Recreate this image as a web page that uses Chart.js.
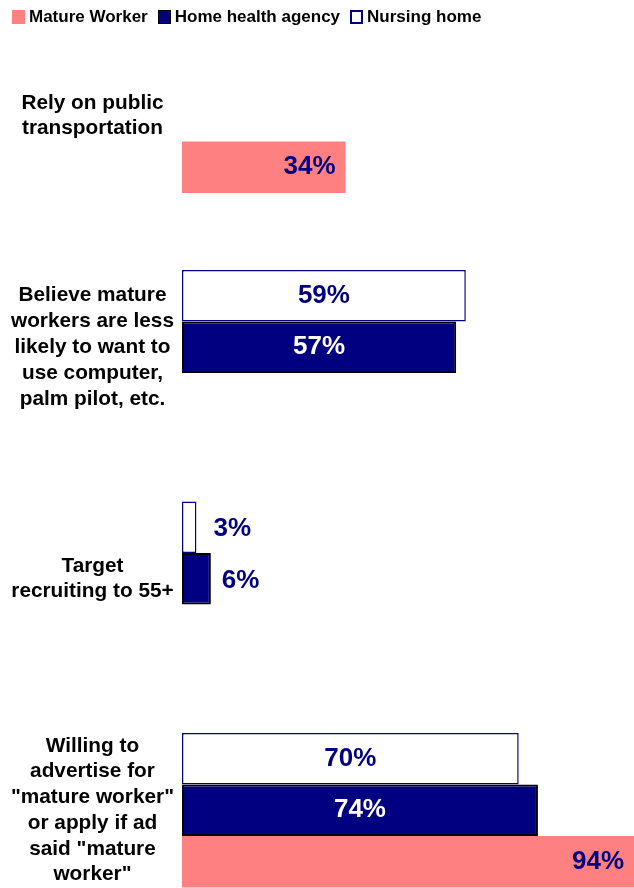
<!DOCTYPE html>
<html>
<head>
<meta charset="utf-8">
<title>Mature worker survey</title>
<script src="https://cdn.jsdelivr.net/npm/chart.js@4"></script>
<style>
  html, body { margin: 0; padding: 0; background: #fff; overflow: hidden; }
  #wrap { position: relative; width: 634px; height: 888px; overflow: hidden; }
  #chart { position: absolute; left: 0; top: 0; }
  #legend { position: absolute; left: 12px; top: 7px; display: flex; align-items: center;
            font: bold 17px "Liberation Sans", Arial, sans-serif; color: #000; white-space: nowrap; }
  #legend .item { display: flex; align-items: center; margin-right: 10px; }
  #legend .box { width: 13px; height: 14px; box-sizing: border-box; margin-right: 4px; }
</style>
</head>
<body>
<div id="wrap">
  <canvas id="chart" width="663" height="926"></canvas>
  <div id="legend"></div>
</div>
<script>
// category labels (one array of lines per category)
const categories = [
  ['Rely on public', 'transportation'],
  ['Believe mature', 'workers are less', 'likely to want to', 'use computer,', 'palm pilot, etc.'],
  ['Target', 'recruiting to 55+'],
  ['Willing to', 'advertise for', '"mature worker"', 'or apply if ad', 'said "mature', 'worker"']
];

// percentages per series
const matureWorker = [34, null, null, 94];
const homeHealthAgency = [null, 57, 6, 74];
const nursingHome = [null, 59, 3, 70];

const NAVY = '#000080';
const SALMON = '#FF8080';
const FONT = '"Liberation Sans", Arial, sans-serif';

// legend (drawn in the order of the original)
const legendItems = [
  { text: 'Mature Worker', bg: SALMON, border: 'none' },
  { text: 'Home health agency', bg: NAVY, border: '1px solid #000' },
  { text: 'Nursing home', bg: '#fff', border: '2px solid ' + NAVY }
];
const legendEl = document.getElementById('legend');
legendItems.forEach(it => {
  const item = document.createElement('span');
  item.className = 'item';
  const box = document.createElement('span');
  box.className = 'box';
  box.style.background = it.bg;
  box.style.border = it.border;
  const label = document.createElement('span');
  label.textContent = it.text;
  item.appendChild(box);
  item.appendChild(label);
  legendEl.appendChild(item);
});

// value labels on the bars
const valueLabels = {
  id: 'valueLabels',
  afterDatasetsDraw(chart) {
    const ctx = chart.ctx;
    ctx.save();
    ctx.font = 'bold 26px ' + FONT;
    ctx.textBaseline = 'middle';
    chart.data.datasets.forEach((ds, i) => {
      const meta = chart.getDatasetMeta(i);
      meta.data.forEach((bar, j) => {
        const v = ds.data[j];
        if (v == null) return;
        const txt = v + '%';
        const w = ctx.measureText(txt).width;
        const left = Math.min(bar.base, bar.x);
        const right = Math.max(bar.base, bar.x);
        if (right - left < w + 16) {
          // too small: put it just right of the bar
          ctx.textAlign = 'left';
          ctx.fillStyle = NAVY;
          ctx.fillText(txt, right + (ds.label === 'Nursing home' ? 17 : 11), bar.y + 2);
        } else if (ds.label === 'Mature Worker') {
          ctx.textAlign = 'right';
          ctx.fillStyle = NAVY;
          ctx.fillText(txt, right - 10, bar.y);
        } else {
          ctx.textAlign = 'center';
          ctx.fillStyle = ds.label === 'Home health agency' ? '#fff' : NAVY;
          ctx.fillText(txt, (left + right) / 2, bar.y);
        }
      });
    });
    ctx.restore();
  }
};

const chart = new Chart(document.getElementById('chart'), {
  type: 'bar',
  data: {
    labels: categories,
    datasets: [
      {
        label: 'Nursing home',
        data: nursingHome,
        backgroundColor: '#fff',
        borderColor: NAVY,
        borderWidth: 1.5,
        borderSkipped: false
      },
      {
        label: 'Home health agency',
        data: homeHealthAgency,
        backgroundColor: NAVY,
        borderColor: '#000',
        borderWidth: 2,
        borderSkipped: false
      },
      {
        label: 'Mature Worker',
        data: matureWorker,
        backgroundColor: SALMON,
        borderWidth: 0
      }
    ]
  },
  options: {
    indexAxis: 'y',
    responsive: false,
    animation: false,
    categoryPercentage: 2 / 3,
    barPercentage: 1,
    layout: { padding: 0 },
    plugins: {
      legend: { display: false },
      tooltip: { enabled: false }
    },
    scales: {
      x: {
        display: false,
        min: 0,
        max: 100
      },
      y: {
        grid: { display: false, drawTicks: false },
        border: { display: false },
        ticks: {
          crossAlign: 'center',
          padding: 8,
          color: '#000',
          font: { family: FONT, size: 20.8, weight: 'bold', lineHeight: 1.24 }
        },
        afterFit(scale) {
          scale.width = 182;
          scale.paddingTop = 0;
          scale.paddingBottom = 0;
        }
      }
    }
  },
  plugins: [valueLabels]
});
</script>
</body>
</html>
